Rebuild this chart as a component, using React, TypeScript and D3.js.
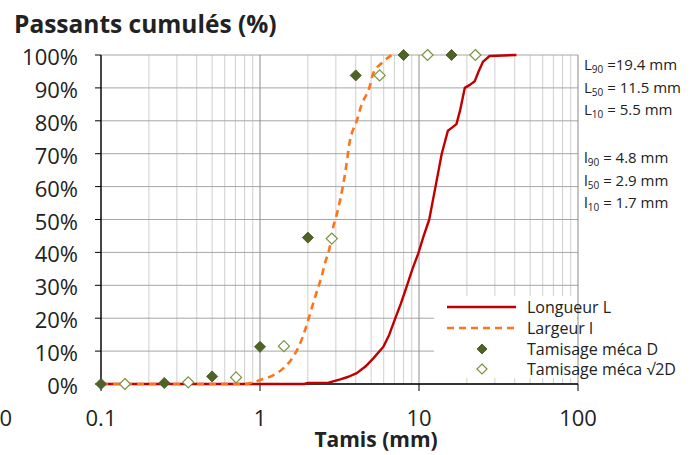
import React from "react";
import * as d3 from "d3";

const W = 698;
const H = 455;

const yTicks = [0, 10, 20, 30, 40, 50, 60, 70, 80, 90, 100];
const xMajor = [0.1, 1, 10, 100];
const xMajorLabels = ["0.1", "1", "10", "100"];

// Longueur L (mm, % passing)
const longueurX = [0.1, 1.9, 2.0, 2.7, 3.2, 3.6, 4.06, 4.6, 5.16, 5.97, 6.5, 7.06, 7.7, 8.36, 9.1, 9.9, 10.7, 11.6, 12.7, 13.9, 15.2, 16.2, 17.2, 18.1, 19.4, 21.0, 22.4, 23.7, 25.3, 27.8, 41];
const longueurY = [0, 0, 0.3, 0.4, 1.4, 2.2, 3.3, 5.3, 7.8, 11.3, 15, 19.7, 24.5, 29.6, 35, 39.7, 45, 50, 60, 70, 77, 78, 79, 83, 90, 91, 92, 95, 98, 99.7, 100];

// Largeur l
const largeurX = [0.1, 0.5, 0.8, 0.86, 1.0, 1.24, 1.44, 1.62, 1.79, 1.92, 2.04, 2.16, 2.33, 2.44, 2.56, 2.72, 2.89, 3.0, 3.43, 3.68, 4.06, 4.36, 4.87, 5.15, 5.82, 6.73];
const largeurY = [0, 0, 0, 0.2, 1.2, 2.9, 5.3, 8.3, 12.4, 16.4, 20.5, 24.5, 29.6, 32.6, 36.7, 40.7, 47.8, 50.5, 64, 74, 80, 85, 90, 94.4, 97.5, 100];

// Tamisage méca D
const tamDX = [0.1, 0.25, 0.5, 1, 2, 4, 8, 16];
const tamDY = [0, 0.3, 2.3, 11.3, 44.5, 93.8, 100, 100];

// Tamisage méca √2D
const tam2DX = [0.1414, 0.3536, 0.7071, 1.4142, 2.8284, 5.6569, 11.3137, 22.6274];
const tam2DY = [0, 0.5, 2, 11.5, 44.2, 93.8, 100, 100];

const legendLabels = ["Longueur L", "Largeur l", "Tamisage méca D", "Tamisage méca √2D"];

const annL = [
  { sub: "90", text: " =19.4 mm" },
  { sub: "50", text: " = 11.5 mm" },
  { sub: "10", text: " = 5.5 mm" },
];
const annl = [
  { sub: "90", text: " = 4.8 mm" },
  { sub: "50", text: " = 2.9 mm" },
  { sub: "10", text: " = 1.7 mm" },
];

const FONT = "'Open Sans', Lato, sans-serif";
const TXT = "#222";
const RED = "#C00000";
const ORANGE = "#FF7417";
const OLIVE = "#4F6228";
const OLIVE_LIGHT = "#77933C";

export default function App() {
  const x = d3.scaleLog().domain([0.1, 100]).range([101, 578]);
  const y = d3.scaleLinear().domain([0, 100]).range([384, 55]);

  const minorX: number[] = [];
  for (const dec of [0.1, 1, 10]) {
    for (let k = 2; k <= 9; k++) minorX.push(dec * k);
  }

  const lineGen = d3
    .line<[number, number]>()
    .x((d) => x(d[0]))
    .y((d) => y(d[1]));
  const smoothGen = d3
    .line<[number, number]>()
    .x((d) => x(d[0]))
    .y((d) => y(d[1]))
    .curve(d3.curveMonotoneX);

  const redPath = lineGen(longueurX.map((v, i) => [v, longueurY[i]] as [number, number])) || "";
  const orangePath = smoothGen(largeurX.map((v, i) => [v, largeurY[i]] as [number, number])) || "";

  const diamond = (cx: number, cy: number, r: number) =>
    `M${cx},${cy - r}L${cx + r},${cy}L${cx},${cy + r}L${cx - r},${cy}Z`;

  const legY = [307, 328, 349, 369];

  return (
    <svg
      width={W}
      height={H}
      style={{ position: "absolute", left: 0, top: 0, background: "#fff" }}
      fontFamily={FONT}
    >
      <rect x={0} y={0} width={W} height={H} fill="#fff" />
      {/* minor vertical grid */}
      {minorX.map((v, i) => (
        <line key={"mx" + i} x1={x(v)} x2={x(v)} y1={y(100)} y2={y(0)} stroke="#cfcfcf" strokeWidth={1} />
      ))}
      {/* horizontal grid */}
      {yTicks.map((t) => (
        <line key={"hy" + t} x1={x(0.1)} x2={x(100)} y1={y(t)} y2={y(t)} stroke="#a6a6a6" strokeWidth={1} />
      ))}
      {/* major vertical grid */}
      {xMajor.map((v) => (
        <line key={"Mx" + v} x1={x(v)} x2={x(v)} y1={y(100)} y2={y(0)} stroke="#8c8c8c" strokeWidth={1} />
      ))}

      {/* axes */}
      <line x1={x(0.1)} x2={x(0.1)} y1={y(100)} y2={y(0)} stroke="#000" strokeWidth={1.3} />
      <line x1={x(0.1)} x2={x(100)} y1={y(0)} y2={y(0)} stroke="#000" strokeWidth={1.3} />
      {yTicks.map((t) => (
        <line key={"yt" + t} x1={x(0.1) - 6} x2={x(0.1)} y1={y(t)} y2={y(t)} stroke="#000" strokeWidth={1} />
      ))}
      {xMajor.map((v) => (
        <line key={"xt" + v} x1={x(v)} x2={x(v)} y1={y(0)} y2={y(0) + 7} stroke="#000" strokeWidth={1} />
      ))}

      {/* y tick labels */}
      {yTicks.map((t) => (
        <text key={"yl" + t} x={78} y={y(t) + 10} textAnchor="end" fontSize={22} fill={TXT}>
          {t + "%"}
        </text>
      ))}
      {/* x tick labels */}
      {xMajor.map((v, i) => (
        <text key={"xl" + v} x={x(v)} y={426} textAnchor="middle" fontSize={22} fill={TXT}>
          {xMajorLabels[i]}
        </text>
      ))}
      <text x={12} y={426} textAnchor="end" fontSize={22} fill={TXT}>0</text>

      {/* title & axis title */}
      <text x={14} y={33} fontSize={24.5} fontWeight="bold" fill={TXT}>Passants cumulés (%)</text>
      <text x={376} y={447} textAnchor="middle" fontSize={21} fontWeight="bold" fill={TXT}>Tamis (mm)</text>

      {/* curves */}
      <path d={redPath} fill="none" stroke={RED} strokeWidth={2.4} strokeLinejoin="round" />
      <path d={orangePath} fill="none" stroke={ORANGE} strokeWidth={2.6} strokeDasharray="7,5" />

      {/* markers */}
      {tamDX.map((v, i) => (
        <path key={"d" + i} d={diamond(x(v), y(tamDY[i]), 5.5)} fill={OLIVE} stroke={OLIVE} strokeWidth={1} />
      ))}
      {tam2DX.map((v, i) => (
        <path key={"o" + i} d={diamond(x(v), y(tam2DY[i]), 5.5)} fill="#fff" stroke={OLIVE_LIGHT} strokeWidth={1.2} />
      ))}

      {/* legend */}
      <rect x={434} y={296} width={143} height={82} fill="#fff" />
      <line x1={447} x2={516} y1={legY[0]} y2={legY[0]} stroke={RED} strokeWidth={2.4} />
      <line x1={447} x2={516} y1={legY[1]} y2={legY[1]} stroke={ORANGE} strokeWidth={2.6} strokeDasharray="7,5" />
      <path d={diamond(482, legY[2], 5)} fill={OLIVE} stroke={OLIVE} />
      <path d={diamond(482, legY[3], 5)} fill="#fff" stroke={OLIVE_LIGHT} strokeWidth={1.2} />
      {legendLabels.map((l, i) => (
        <text key={"lg" + i} x={527} y={legY[i] + 6} fontSize={16} fill={TXT}>
          {l}
        </text>
      ))}

      {/* annotations */}
      {annL.map((a, i) => (
        <text key={"aL" + i} x={584} y={70 + i * 22.5} fontSize={15} fill={TXT}>
          L<tspan fontSize={10} dy={3}>{a.sub}</tspan>
          <tspan dy={-3}>{a.text}</tspan>
        </text>
      ))}
      {annl.map((a, i) => (
        <text key={"al" + i} x={584} y={163 + i * 22.5} fontSize={15} fill={TXT}>
          l<tspan fontSize={10} dy={3}>{a.sub}</tspan>
          <tspan dy={-3}>{a.text}</tspan>
        </text>
      ))}
    </svg>
  );
}
